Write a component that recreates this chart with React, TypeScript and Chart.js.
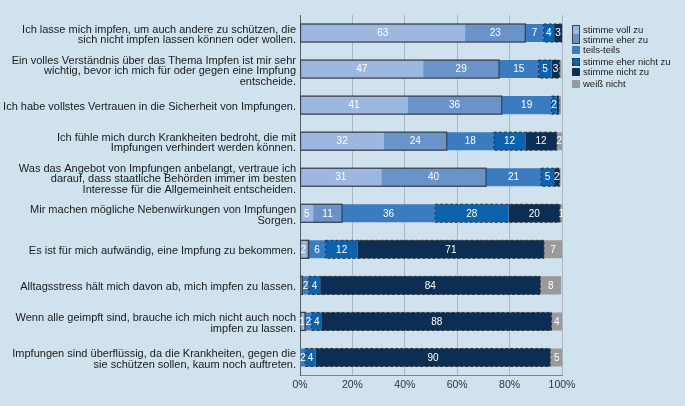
import { useEffect, useRef } from "react";
import { Chart, registerables } from "chart.js";

Chart.register(...registerables);

const categories: string[][] = [
  ["Ich lasse mich impfen, um auch andere zu schützen, die", "sich nicht impfen lassen können oder wollen."],
  ["Ein volles Verständnis über das Thema Impfen ist mir sehr", "wichtig, bevor ich mich für oder gegen eine Impfung", "entscheide."],
  ["Ich habe vollstes Vertrauen in die Sicherheit von Impfungen."],
  ["Ich fühle mich durch Krankheiten bedroht, die mit", "Impfungen verhindert werden können."],
  ["Was das Angebot von Impfungen anbelangt, vertraue ich", "darauf, dass staatliche Behörden immer im besten", "Interesse für die Allgemeinheit entscheiden."],
  ["Mir machen mögliche Nebenwirkungen von Impfungen", "Sorgen."],
  ["Es ist für mich aufwändig, eine Impfung zu bekommen."],
  ["Alltagsstress hält mich davon ab, mich impfen zu lassen."],
  ["Wenn alle geimpft sind, brauche ich mich nicht auch noch", "impfen zu lassen."],
  ["Impfungen sind überflüssig, da die Krankheiten, gegen die", "sie schützen sollen, kaum noch auftreten."],
];

const seriesNames = [
  "stimme voll zu",
  "stimme eher zu",
  "teils-teils",
  "stimme eher nicht zu",
  "stimme nicht zu",
  "weiß nicht",
];

const vollZu = [63, 47, 41, 32, 31, 5, 2.4, 0, 1.4, 0];
const eherZu = [23, 29, 36, 24, 40, 11, 0.9, 0.9, 0.6, 0];
const teilsTeils = [7, 15, 19, 18, 21, 35.6, 6.4, 2.4, 2.4, 2];
const eherNichtZu = [4, 5, 2, 12, 5, 28, 12.4, 4.4, 4, 4];
const nichtZu = [3, 3, 0.8, 12, 2, 19.6, 71, 84, 87.6, 89.5];
const weissNicht = [0, 0.8, 0.8, 2, 0.5, 1, 7, 8, 4, 5];

const xTicks = [0, 20, 40, 60, 80, 100];

const colors = ["#9db8df", "#6a93c9", "#3b7cc0", "#0b63ad", "#0b2e52", "#9a9a9a"];
const BG = "#d0e2ee";
const FONT = '"Liberation Sans", Arial, Helvetica, sans-serif';

const groupPlugin = {
  id: "groupOutlines",
  afterDatasetsDraw(chart: any) {
    const ctx = chart.ctx as CanvasRenderingContext2D;
    const area = chart.chartArea;
    ctx.save();
    ctx.beginPath();
    ctx.rect(area.left, area.top - 3, area.right - area.left + 0.5, area.bottom - area.top + 6);
    ctx.clip();

    const metas = chart.data.datasets.map((_: any, i: number) => chart.getDatasetMeta(i));
    categories.forEach((_, j) => {
      const a0 = metas[0].data[j].getProps(["x", "y", "base", "height"], true);
      const a1 = metas[1].data[j].getProps(["x", "y", "base", "height"], true);
      const h = a0.height;
      if (vollZu[j] + eherZu[j] > 0) {
        ctx.setLineDash([]);
        ctx.strokeStyle = "#3b4250";
        ctx.lineWidth = 1.3;
        ctx.strokeRect(a0.base, a0.y - h / 2, a1.x - a0.base, h);
      }
      const d0 = metas[3].data[j].getProps(["x", "y", "base", "height"], true);
      const d1 = metas[4].data[j].getProps(["x", "y", "base", "height"], true);
      if (eherNichtZu[j] + nichtZu[j] > 0) {
        ctx.setLineDash([3, 2]);
        ctx.strokeStyle = "#2a3340";
        ctx.lineWidth = 1;
        ctx.strokeRect(d0.base, d0.y - h / 2, d1.x - d0.base, h);
      }
    });
    ctx.setLineDash([]);

    ctx.fillStyle = "#ffffff";
    ctx.font = `10px ${FONT}`;
    ctx.textAlign = "center";
    ctx.textBaseline = "middle";
    chart.data.datasets.forEach((ds: any, di: number) => {
      metas[di].data.forEach((el: any, j: number) => {
        const v = ds.data[j] as number;
        if (v < 1) return;
        const p = el.getProps(["x", "y", "base"], true);
        ctx.fillText(String(Math.round(v)), (p.x + p.base) / 2, p.y + 0.5);
      });
    });
    ctx.restore();
  },
};

export default function App() {
  const ref = useRef<HTMLCanvasElement | null>(null);

  useEffect(() => {
    if (!ref.current) return;
    const series = [vollZu, eherZu, teilsTeils, eherNichtZu, nichtZu, weissNicht];
    const chart = new Chart(ref.current, {
      type: "bar",
      data: {
        labels: categories,
        datasets: series.map((d, i) => ({
          label: seriesNames[i],
          data: d,
          backgroundColor: colors[i],
          borderWidth: 0,
          barPercentage: 0.5,
          categoryPercentage: 1,
        })),
      },
      plugins: [groupPlugin],
      options: {
        indexAxis: "y",
        responsive: false,
        animation: false,
        devicePixelRatio: 1,
        layout: { padding: { top: 15, right: 123, left: 0, bottom: 0 } },
        plugins: {
          legend: { display: false },
          tooltip: { enabled: false },
        },
        scales: {
          x: {
            stacked: true,
            min: 0,
            max: 100,
            afterBuildTicks: (s: any) => {
              s.ticks = xTicks.map((v) => ({ value: v }));
            },
            ticks: {
              callback: (v: any) => `${v}%`,
              color: "#333333",
              font: { size: 10.5, family: FONT },
              padding: 3,
              maxRotation: 0,
            },
            grid: { color: "#aab7c0", drawTicks: false, lineWidth: 1 },
            border: { color: "#7f878e", width: 1 },
            afterFit: (s: any) => {
              s.height = 30.5;
            },
          },
          y: {
            stacked: true,
            ticks: {
              color: "#1a1a1a",
              font: { size: 11, family: FONT, lineHeight: 0.95 },
              padding: 4,
              labelOffset: 2,
              autoSkip: false,
            },
            grid: { display: false, drawTicks: false },
            border: { display: true, color: "#5a6068", width: 1 },
            afterFit: (s: any) => {
              s.width = 300;
            },
          },
        },
      },
    });
    return () => chart.destroy();
  }, []);

  const legendText: React.CSSProperties = {
    position: "absolute",
    left: 583,
    font: `9.5px ${FONT}`,
    color: "#1a1a1a",
    lineHeight: "10px",
    whiteSpace: "nowrap",
  };
  const sw = (top: number, color: string, dashed: boolean): React.CSSProperties => ({
    position: "absolute",
    left: 572,
    top,
    width: 8,
    height: 8,
    background: color,
    boxSizing: "border-box",
    border: dashed ? "1px dashed #2a3340" : "none",
  });

  return (
    <div style={{ position: "fixed", left: 0, top: 0, width: 685, height: 406, background: BG, overflow: "hidden" }}>
      <canvas ref={ref} width={685} height={406} style={{ width: 685, height: 406, display: "block" }} />
      <div
        style={{
          position: "absolute",
          left: 572,
          top: 25,
          width: 8,
          height: 19,
          boxSizing: "border-box",
          border: "1px solid #3b4250",
          background: `linear-gradient(${colors[0]} 0 50%, ${colors[1]} 50% 100%)`,
        }}
      />
      <div style={{ ...legendText, top: 25 }}>{seriesNames[0]}</div>
      <div style={{ ...legendText, top: 34.5 }}>{seriesNames[1]}</div>
      <div style={sw(46, colors[2], false)} />
      <div style={{ ...legendText, top: 45 }}>{seriesNames[2]}</div>
      <div style={sw(57.5, colors[3], true)} />
      <div style={{ ...legendText, top: 56.5 }}>{seriesNames[3]}</div>
      <div style={sw(68, colors[4], true)} />
      <div style={{ ...legendText, top: 67 }}>{seriesNames[4]}</div>
      <div style={sw(79.5, colors[5], false)} />
      <div style={{ ...legendText, top: 78.5 }}>{seriesNames[5]}</div>
    </div>
  );
}
